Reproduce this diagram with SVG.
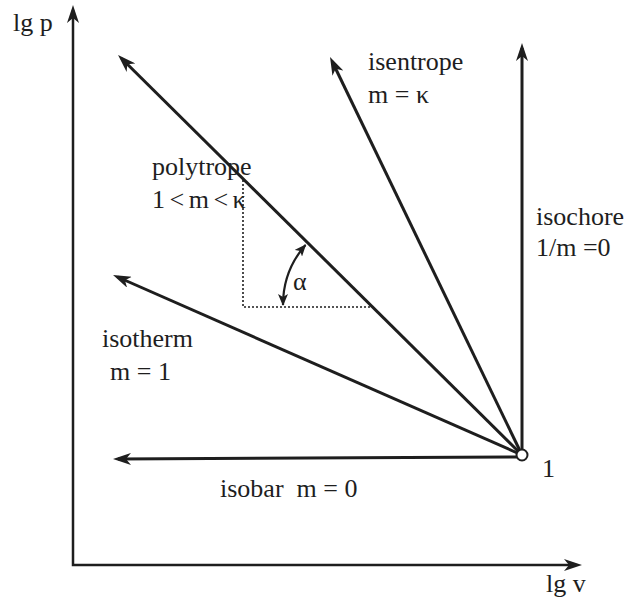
<svg xmlns="http://www.w3.org/2000/svg" width="633" height="604" viewBox="0 0 633 604">
<defs>
<style>
.t{font-family:"Liberation Serif","Times New Roman",serif;font-size:26px;fill:#1e1e1e}
.ln{stroke:#1e1e1e;stroke-width:3;fill:none;marker-end:url(#arr)}
.ax{stroke:#1e1e1e;stroke-width:2.5;fill:none}
.dot{stroke:#1e1e1e;stroke-width:1.6;stroke-dasharray:2 2;fill:none}
</style>
<marker id="arr" viewBox="0 0 18 12" refX="13" refY="6" markerWidth="18" markerHeight="12" markerUnits="userSpaceOnUse" orient="auto">
<path d="M18 6 L0 0 L5 6 L0 12 Z" fill="#1e1e1e"/>
</marker>
<marker id="sarr" viewBox="0 0 12 10" refX="11" refY="5" markerWidth="12" markerHeight="10" markerUnits="userSpaceOnUse" orient="auto-start-reverse">
<path d="M12 5 L0 0 L3 5 L0 10 Z" fill="#1e1e1e"/>
</marker>
</defs>
<rect width="633" height="604" fill="#ffffff"/>
<g id="axes">
<polyline class="ax" points="73,10 73,565 576,565"/>
<path d="M73 5 L67 23 L73 18 L79 23 Z" fill="#1e1e1e"/>
<path d="M582 565 L564 559 L569 565 L564 571 Z" fill="#1e1e1e"/>
</g>
<g id="connectors">
<line id="isochore-line" class="ln" x1="522" y1="455" x2="522" y2="48"/>
<line id="isentrope-line" class="ln" x1="522" y1="455" x2="332.2" y2="61.5"/>
<line id="polytrope-line" class="ln" x1="522" y1="455" x2="121.6" y2="58.5"/>
<line id="isotherm-line" class="ln" x1="522" y1="455" x2="117.6" y2="277"/>
<line id="isobar-line" class="ln" x1="522" y1="457" x2="118" y2="459"/>
</g>
<g id="triangle">
<polyline class="dot" points="243,180 243,307 372,307"/>
<path d="M283 305 A 91 91 0 0 1 305.5 245" stroke="#1e1e1e" stroke-width="2.2" fill="none" marker-start="url(#sarr)" marker-end="url(#sarr)"/>
<text class="t" x="293" y="290" font-size="24">α</text>
</g>
<g id="origin">
<circle cx="522" cy="455" r="5.5" fill="#ffffff" stroke="#1e1e1e" stroke-width="2"/>
<text class="t" x="542" y="477">1</text>
</g>
<g id="lgp"><text class="t" x="13" y="31">lg p</text></g>
<g id="lgv"><text class="t" x="546" y="592">lg v</text></g>
<g id="isentrope"><text class="t" x="368" y="70">isentrope</text><text class="t" x="368" y="103">m = κ</text></g>
<g id="isochore"><text class="t" x="536" y="225">isochore</text><text class="t" x="536" y="256">1/m =0</text></g>
<g id="polytrope"><text class="t" x="152" y="175">polytrope</text><text class="t" x="152" y="208" font-size="24" word-spacing="-2">1 &lt; m &lt; κ</text></g>
<g id="isotherm"><text class="t" x="102" y="347">isotherm</text><text class="t" x="110" y="380">m = 1</text></g>
<g id="isobar"><text class="t" x="220" y="497" xml:space="preserve">isobar  m = 0</text></g>
</svg>
